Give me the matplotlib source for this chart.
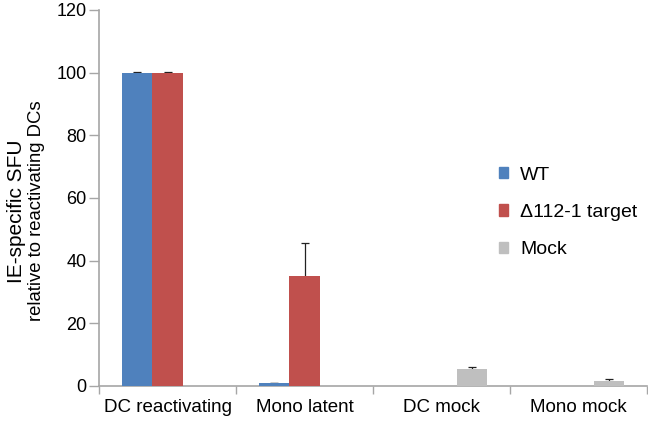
import matplotlib
matplotlib.use("Agg")
import matplotlib.pyplot as plt
import numpy as np
from matplotlib.patches import Patch

plt.rcParams["font.family"] = ["Liberation Sans", "DejaVu Sans"]

categories = ["DC reactivating", "Mono latent", "DC mock", "Mono mock"]
series = ["WT", "\u0394112-1 target", "Mock"]
wt = [100, 0.9, 0, 0]
wt_err = [0.1, 0.1, 0, 0]
d112 = [100, 35, 0, 0]
d112_err = [0.1, 10.7, 0, 0]
mock = [0, 0, 5.3, 1.5]
mock_err = [0, 0, 0.9, 0.8]

colors = ["#4F81BD", "#C0504D", "#BFBFBF"]
axis_grey = "#A6A6A6"

fig = plt.figure(figsize=(6.48, 4.24), dpi=100)
ax = fig.add_axes([99 / 648, 1 - 386 / 424, 548 / 648, 376 / 424])

x = np.arange(len(categories))
w = 1 / 4.5
vals = [wt, d112, mock]
errs = [wt_err, d112_err, mock_err]
for i, (v, e, c) in enumerate(zip(vals, errs, colors)):
    xs = x + (i - 1) * w
    ax.bar(xs, v, width=w, color=c, zorder=3)
    show = [j for j in range(len(v)) if v[j] > 0]
    # symmetric bars drawn behind the columns, so only the upper half shows
    ax.errorbar(xs[show], np.array(v)[show], yerr=np.array(e)[show],
                fmt="none", ecolor="#222222", elinewidth=0.9, capsize=3, capthick=0.9, zorder=2)

ax.set_xlim(-0.5, 3.5)
ax.set_ylim(0, 120)
ax.set_yticks(range(0, 121, 20))
ax.set_xticks(np.arange(-0.5, 3.6, 1.0))
ax.set_xticks(x, minor=True)
ax.set_xticklabels([])
ax.set_xticklabels(categories, minor=True)
ax.tick_params(axis="x", which="major", length=6, color=axis_grey, width=1)
ax.tick_params(axis="x", which="minor", length=0, labelsize=13.5, pad=9)
ax.tick_params(axis="y", length=7, color=axis_grey, width=1, labelsize=13, pad=2)
for s in ("top", "right"):
    ax.spines[s].set_visible(False)
for s in ("left", "bottom"):
    ax.spines[s].set_color(axis_grey)
    ax.spines[s].set_linewidth(1.2)

fig.text(17 / 648, 1 - 211 / 424, "IE-specific SFU", rotation=90, ha="center", va="center", fontsize=15)
fig.text(37 / 648, 1 - 211 / 424, "relative to reactivating DCs", rotation=90, ha="center", va="center", fontsize=13.3)

handles = [Patch(color=c) for c in colors]
fig.legend(handles, series, loc="upper left", bbox_to_anchor=(481 / 648, 1 - 149 / 424),
           frameon=False, fontsize=14, handlelength=0.5, handleheight=0.5,
           handletextpad=0.6, labelspacing=1.05)

fig.savefig("out.png", dpi=100)
